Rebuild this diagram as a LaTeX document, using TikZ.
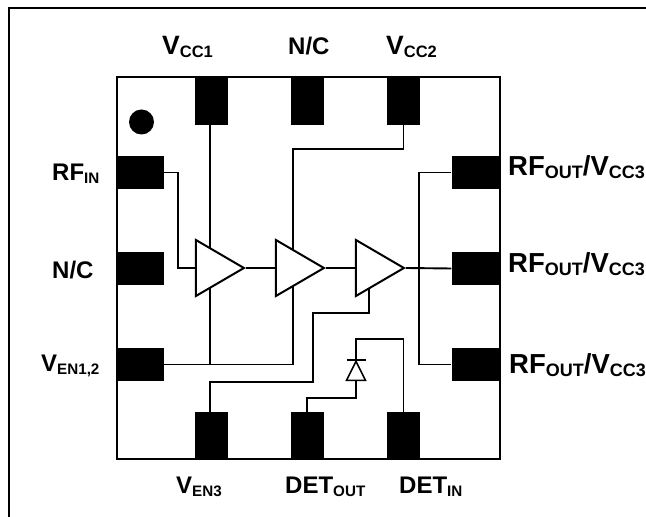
\documentclass[tikz,border=0pt]{standalone}
\usepackage{fontspec}
\setmainfont{Liberation Sans}
\usetikzlibrary{shapes.geometric}
\newcommand{\pinsub}[2][15.2]{\raisebox{-3pt}{\fontsize{#1}{#1}\selectfont #2}}
\tikzset{
    padv/.style={fill=black, inner sep=0pt, minimum width=33pt, minimum height=48pt},
    padh/.style={fill=black, inner sep=0pt, minimum width=48pt, minimum height=33pt},
    amp/.style={draw, fill=white, line width=2pt, isosceles triangle, isosceles triangle apex angle=60, isosceles triangle stretches, inner sep=0pt, minimum width=56pt, minimum height=48pt},
    wire/.style={line width=1.9pt, line join=miter},
    pinlabel/.style={inner sep=0pt, anchor=base west, font=\fontsize{24}{24}\selectfont\bfseries},
    pintop/.style={pinlabel, font=\fontsize{26.5}{27}\selectfont\bfseries},
    pinlarge/.style={pinlabel, font=\fontsize{27.5}{28}\selectfont\bfseries}
}
\begin{document}
\begin{tikzpicture}[x=1pt, y=1pt]
    \useasboundingbox (0,0) rectangle (646,517);
    \draw[line width=2.6pt] (9,0) -- (9,509) -- (646,509);

    \node[draw, line width=2pt, inner sep=0pt, minimum width=383pt, minimum height=382pt] (chip) at (308,248.5) {};

    \node[padv] (vcc1) at (211.5,416) {};
    \node[padv, right of=vcc1, node distance=96pt] (ncTop) {};
    \node[padv, right of=ncTop, node distance=96pt] (vcc2) {};

    \node[padv] (ven3) at (211.5,81) {};
    \node[padv, right of=ven3, node distance=96pt] (detOut) {};
    \node[padv, right of=detOut, node distance=96pt] (detIn) {};

    \node[padh] (rfIn) at (140,344.5) {};
    \node[padh, below of=rfIn, node distance=96pt] (ncLeft) {};
    \node[padh, below of=ncLeft, node distance=96pt] (ven12) {};

    \node[padh] (rfOut1) at (475.5,344.5) {};
    \node[padh, below of=rfOut1, node distance=96pt] (rfOut2) {};
    \node[padh, below of=rfOut2, node distance=96pt] (rfOut3) {};

    \node[circle, fill=black, inner sep=0pt, minimum size=25pt] (dot) at (141.5,395) {};

    % taps hidden behind the amplifiers
    \coordinate (tap1) at (210,249);
    \coordinate (tap2) at (293,249);
    \coordinate (tap3) at (369,249);
    \coordinate (join) at (419,249);

    \draw[wire] (tap1 |- vcc1.south) -- (tap1 |- ven12.east);
    \draw[wire] (vcc2.south) -- ++(0,-24) -| (tap2);
    \draw[wire] (ven12.east) -| (tap2);

    \draw[wire] (ven3.north -| tap1) -- ++(0,30) -- ++(103,0) -- ++(0,69) -| (tap3);
    \draw[wire] (detOut.north -| 307,0) -- ++(0,14) -- ++(49,0) -- ++(0,59) -| (detIn.north);

    \node[amp] (amp1) at (212,249) {};
    \node[amp, right of=amp1, node distance=80pt] (amp2) {};
    \node[amp, right of=amp2, node distance=80pt] (amp3) {};

    \draw[wire] (rfIn.east) -- ++(14,0) |- (amp1.west);
    \draw[wire] (amp1.apex) -- (amp2.west);
    \draw[wire] (amp2.apex) -- (amp3.west);
    \draw[wire] (amp3.apex) -- (rfOut2.west);
    \draw[wire] (rfOut1.west) -| (join) |- (rfOut3.west);

    % detector diode
    \node[draw, fill=white, line width=1.5pt, isosceles triangle, isosceles triangle apex angle=54, isosceles triangle stretches, shape border rotate=90, inner sep=0pt, minimum width=19pt, minimum height=19pt] (diode) at (356,142.5) {};
    \draw[line width=1.9pt] (diode.apex -| 346.5,0) -- (diode.apex -| 365.5,0);

    \node[pintop] (lblVcc1) at (162,462) {V\pinsub[16.5]{CC1}};
    \node[pinlabel] (lblNcTop) at (288,462) {N/C};
    \node[pintop] (lblVcc2) at (386,462) {V\pinsub[16.5]{CC2}};
    \node[pinlabel] (lblRfIn) at (52,336) {RF\pinsub{IN}};
    \node[pinlabel] (lblNcLeft) at (52,238) {N/C};
    \node[pinlabel] (lblVen12) at (41,145) {V\pinsub{EN1,2}};
    \node[pinlarge] (lblRfOut1) at (508,341) {RF\pinsub[18]{OUT}/V\pinsub[18]{CC3}};
    \node[pinlarge] (lblRfOut2) at (508,244) {RF\pinsub[18]{OUT}/V\pinsub[18]{CC3}};
    \node[pinlarge] (lblRfOut3) at (509,143) {RF\pinsub[18]{OUT}/V\pinsub[18]{CC3}};
    \node[pinlabel] (lblVen3) at (176,23) {V\pinsub{EN3}};
    \node[pinlabel] (lblDetOut) at (285,23) {DET\pinsub{OUT}};
    \node[pinlabel] (lblDetIn) at (399,23) {DET\pinsub{IN}};
\end{tikzpicture}
\end{document}
